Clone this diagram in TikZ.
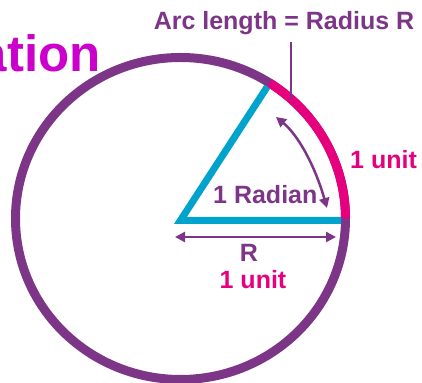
\documentclass[tikz,border=0pt]{standalone}
\usepackage{fontspec}
\setmainfont{Liberation Sans}
\usetikzlibrary{arrows.meta,calc}
\definecolor{cpurple}{HTML}{7D3587}
\definecolor{cpink}{HTML}{E6007E}
\definecolor{cblue}{HTML}{00A3CC}
\definecolor{cmagenta}{HTML}{CC00CC}
\tikzset{
  lbl/.style={inner sep=0pt, font=\bfseries\fontsize{25}{25}\selectfont},
  dimarrow/.style={cpurple, line width=2.5pt, {Triangle[length=10pt,width=10pt]}-{Triangle[length=10pt,width=10pt]}}
}
\begin{document}
\begin{tikzpicture}[x=1pt,y=1pt]
\useasboundingbox (0,0) rectangle (422,382);
\clip (0,0) rectangle (422,382);
\coordinate (C) at (180.5,163.5);
% circle
\draw[cpurple, line width=9pt] (C) ellipse [x radius=165, y radius=161];
% pink arc (1 radian)
\draw[cpink, line width=9pt] ([shift={(0:165 and 161)}]C) arc[start angle=0, end angle=57.3, x radius=165, y radius=161];
% blue radii
\coordinate (A) at (180.4,161.5);
\coordinate (B) at (341,161.5);
\coordinate (U) at ($(C)+(57.3:160.5 and 156.5)$);
\draw[cblue, line width=7pt, miter limit=10] (U) -- (A) -- (B);
% leader line
\coordinate (leadtop) at (291,340);
\coordinate (leadbot) at (291,283);
\draw[cpurple, line width=2pt] (leadtop) -- (leadbot);
% curved arrow
\coordinate (P1) at (276,265);
\coordinate (P2) at (327,174);
\draw[dimarrow] (P1) .. controls (297.7,247.3) and (314.7,217) .. (P2);
% horizontal arrow
\coordinate (H1) at (175,145);
\coordinate (H2) at (336,145);
\draw[dimarrow] (H1) -- (H2);
% texts
\node[lbl, text=cmagenta, anchor=base east, font=\bfseries\fontsize{51}{51}\selectfont] (title) at (101,310) {ation};
\node[lbl, text=cpurple, anchor=base] (arclen) at (284,352) {Arc length = Radius R};
\node[lbl, text=cpink, anchor=base west] (unitr) at (350,213) {1 unit};
\node[lbl, text=cpurple, anchor=base west] (rad) at (213,178) {1 Radian};
\node[lbl, text=cpurple, anchor=base] (R) at (249,120) {R};
\node[lbl, text=cpink, anchor=base] (unitb) at (253,93) {1 unit};
\end{tikzpicture}
\end{document}
